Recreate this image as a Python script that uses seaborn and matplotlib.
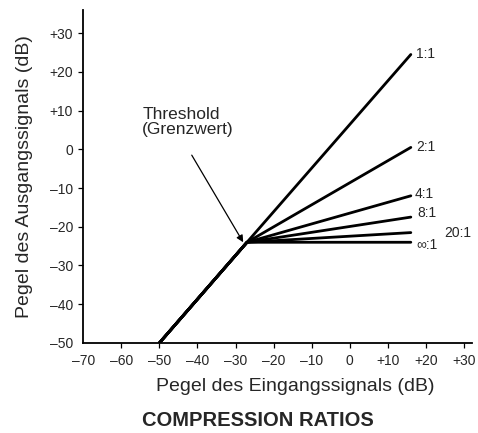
import numpy as np
import pandas as pd
import matplotlib
matplotlib.use('Agg')
import matplotlib.pyplot as plt
import seaborn as sns

# Werte (dB)
ratios = ['1:1', '2:1', '4:1', '8:1', '20:1', '∞:1']
start_in, start_out = -50, -50
thresh_in, thresh_out = -27, -24
end_in = 16
end_out = [24.5, 0.5, -12, -17.5, -21.5, -24]

x_ticks = [-70, -60, -50, -40, -30, -20, -10, 0, 10, 20, 30]
x_labels = ['–70', '–60', '–50', '–40', '–30', '–20', '–10', '0', '+10', '+20', '+30']
y_ticks = [-50, -40, -30, -20, -10, 0, 10, 20, 30]
y_labels = ['–50', '–40', '–30', '–20', '–10', '0', '+10', '+20', '+30']

rows = []
for r, e in zip(ratios, end_out):
    rows.append({'ratio': r, 'ein': start_in, 'aus': start_out})
    rows.append({'ratio': r, 'ein': thresh_in, 'aus': thresh_out})
    rows.append({'ratio': r, 'ein': end_in, 'aus': e})
df = pd.DataFrame(rows)

sns.set_style('ticks')
plt.rcParams['font.family'] = ['Liberation Sans', 'DejaVu Sans']

fig = plt.figure(figsize=(4.78, 4.33), dpi=100)
ax = fig.add_axes([0.174, 0.208, 0.813, 0.769])

sns.lineplot(data=df, x='ein', y='aus', units='ratio', estimator=None, sort=False,
             color='black', linewidth=2.0, ax=ax, legend=False)

# Beschriftungen an den Linienenden
offsets = {'1:1': (3.6, 0), '2:1': (3.6, 0), '4:1': (3, 1.5), '8:1': (5, 3),
           '20:1': (24, 0), '∞:1': (4.3, -2)}
for r, e in zip(ratios, end_out):
    ax.annotate(r, xy=(end_in, e), xytext=offsets[r], textcoords='offset points',
                ha='left', va='center', fontsize=10)

ax.text(-54.5, 11, 'Threshold\n(Grenzwert)', ha='left', va='top', fontsize=12.5, linespacing=1.0)
ax.annotate('', xy=(-28, -24), xytext=(-41.5, -1.5),
            arrowprops=dict(arrowstyle='-|>', color='black', lw=0.9,
                            mutation_scale=10, shrinkA=0, shrinkB=0))

ax.set_xlim(-70, 32)
ax.set_ylim(-50, 36)
ax.set_xticks(x_ticks)
ax.set_xticklabels(x_labels)
ax.set_yticks(y_ticks)
ax.set_yticklabels(y_labels)
ax.xaxis.get_major_ticks()[0].tick1line.set_visible(False)
ax.yaxis.get_major_ticks()[0].tick1line.set_visible(False)
ax.tick_params(axis='both', labelsize=10, length=3.8, width=0.9, color='black')
ax.tick_params(axis='x', pad=4.5)
ax.tick_params(axis='y', pad=3.5)
for s in ['left', 'bottom']:
    ax.spines[s].set_linewidth(1.3)
    ax.spines[s].set_color('black')
sns.despine(ax=ax)

ax.set_xlabel('Pegel des Eingangssignals (dB)', fontsize=14)
ax.xaxis.set_label_coords(0.545, -0.105)
ax.set_ylabel('Pegel des Ausgangssignals (dB)', fontsize=14)
ax.yaxis.set_label_coords(-0.128, 0.5)
fig.text(0.54, 0.03, 'COMPRESSION RATIOS', ha='center', va='center',
         fontsize=14.5, fontweight='bold')

fig.savefig('out.png', dpi=100)
